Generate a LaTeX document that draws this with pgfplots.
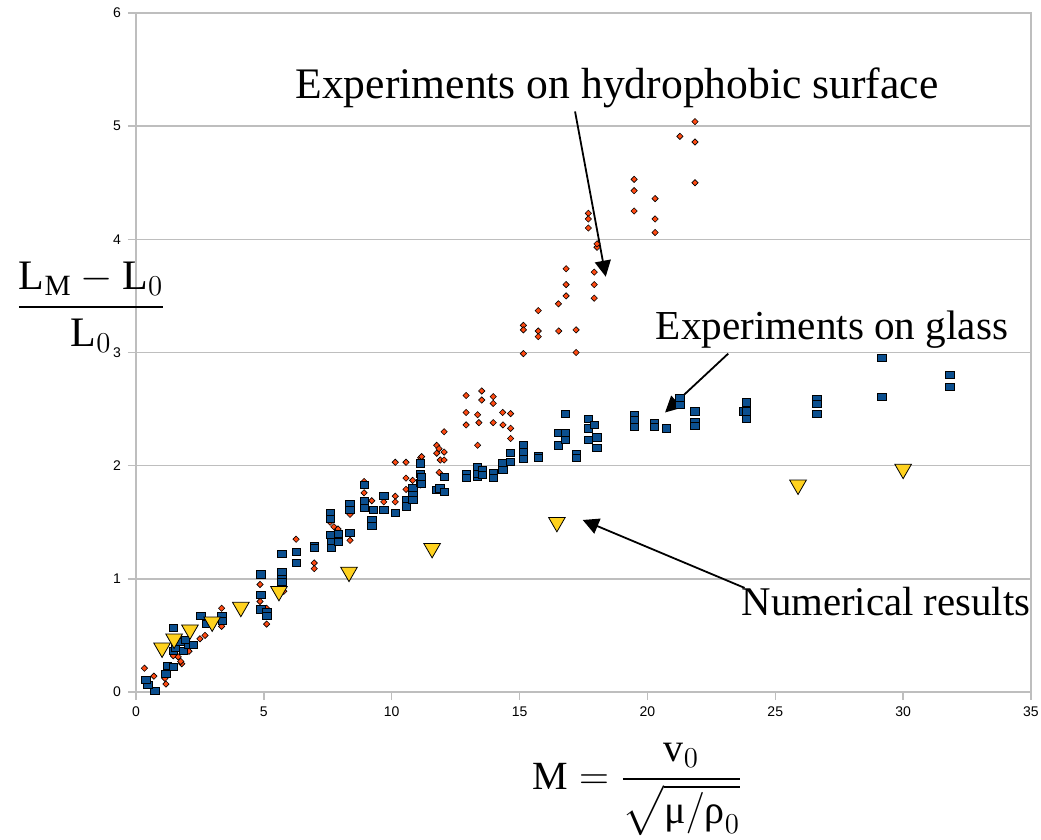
\documentclass[border=0pt]{standalone}
\usepackage{amsmath}
\usepackage{fontspec}
\setmainfont{Liberation Serif}
\newfontfamily\ticksfont{Liberation Sans}
\usepackage{pgfplots}
\pgfplotsset{compat=1.18}
\usetikzlibrary{arrows.meta}

\definecolor{glassblue}{HTML}{0B4F8F}
\definecolor{hydroorange}{HTML}{FF4A12}
\definecolor{numyellow}{HTML}{FFD21F}
\definecolor{gridgray}{HTML}{BEBEBE}

\begin{document}
\begin{tikzpicture}
\useasboundingbox (-68pt,-74pt) rectangle (452.5pt,346pt);
\begin{axis}[
    at={(0pt,0pt)}, anchor=south west,
    scale only axis, width=447.5pt, height=339.5pt,
    xmin=0, xmax=35, ymin=0, ymax=6,
    xtick={0,5,...,35}, ytick={0,1,...,6},
    xtick pos=left, ytick pos=left,
    tick align=outside, major tick length=4pt,
    ymajorgrids,
    major grid style={gridgray, line width=0.7pt},
    axis line style={gridgray, line width=0.7pt},
    tick style={gridgray, line width=0.7pt},
    tick label style={font=\ticksfont\fontsize{7}{8}\selectfont, black},
    /pgf/number format/assume math mode=true,
    clip=false,
]
% hydrophobic surface
\addplot[only marks, mark=diamond*, mark size=2.1pt,
    mark options={yscale=0.75, fill=hydroorange, draw=black, line width=0.3pt}]
coordinates {
(0.33,0.21) (0.70,0.14) (1.13,0.12) (1.17,0.07) (1.46,0.32) (1.65,0.31)
(1.79,0.25) (1.75,0.27) (2.07,0.36) (2.50,0.47) (2.70,0.50) (3.35,0.74)
(3.35,0.58) (4.85,0.95) (4.85,0.80) (5.11,0.74) (5.11,0.60) (5.78,0.89)
(6.26,1.35) (6.97,1.14) (6.97,1.09) (7.59,1.50) (7.74,1.46) (7.90,1.44)
(8.37,1.57) (8.37,1.34) (8.92,1.86) (8.92,1.76) (9.22,1.69) (9.69,1.68)
(10.14,2.03) (10.14,1.73) (10.14,1.68) (10.56,2.03) (10.56,1.89) (10.56,1.79)
(10.82,1.87) (10.82,1.74) (11.13,2.07) (11.13,1.83) (11.17,2.08) (11.76,2.18)
(11.85,2.15) (11.76,2.11) (12.05,2.12) (12.05,2.30) (11.90,2.05) (12.05,2.05)
(11.86,1.94) (12.91,2.62) (13.52,2.66) (13.52,2.58) (13.97,2.61) (13.97,2.55)
(12.91,2.47) (13.36,2.45) (14.34,2.47) (14.65,2.46) (12.91,2.36) (13.41,2.38)
(13.97,2.38) (14.35,2.36) (14.65,2.33) (14.65,2.24) (13.36,2.18) (15.15,3.24)
(15.15,3.20) (15.15,2.99) (15.73,3.37) (15.73,3.19) (15.73,3.14) (16.53,3.19)
(16.52,3.43) (17.21,3.20) (17.21,3.00) (16.82,3.74) (16.82,3.60) (16.82,3.50)
(17.69,4.23) (17.69,4.18) (17.69,4.10) (18.03,3.93) (18.03,3.96) (17.92,3.71)
(17.92,3.60) (17.92,3.48) (19.48,4.53) (19.48,4.43) (19.48,4.25) (20.30,4.36)
(20.30,4.18) (20.30,4.06) (21.27,4.91) (21.86,5.04) (21.86,4.86) (21.86,4.50)
};
% glass
\addplot[only marks, mark=square*, mark size=2.1pt,
    mark options={yscale=0.85, fill=glassblue, draw=black, line width=0.35pt}]
coordinates {
(0.74,0.01) (0.46,0.06) (0.38,0.11) (1.17,0.16) (1.22,0.23) (1.46,0.22)
(1.45,0.36) (1.53,0.39) (1.72,0.44) (1.85,0.36) (2.05,0.42) (2.24,0.42)
(1.92,0.46) (1.46,0.57) (2.54,0.67) (2.76,0.60) (3.35,0.67) (3.38,0.63)
(4.88,1.04) (4.88,0.86) (4.88,0.73) (5.11,0.71) (5.11,0.67) (5.70,1.06)
(5.70,1.00) (5.70,0.97) (5.70,1.22) (6.26,1.24) (6.26,1.14) (6.97,1.29)
(6.97,1.27) (7.59,1.58) (7.59,1.53) (7.59,1.39) (7.65,1.33) (7.65,1.27)
(7.91,1.40) (7.91,1.33) (8.37,1.66) (8.37,1.61) (8.37,1.41) (8.92,1.83)
(8.92,1.69) (8.92,1.63) (9.28,1.61) (9.22,1.52) (9.22,1.47) (9.69,1.73)
(9.69,1.61) (10.14,1.58) (10.58,1.70) (10.58,1.64) (10.82,1.80) (10.82,1.74)
(10.82,1.70) (11.11,2.02) (11.13,1.93) (11.13,1.85) (11.76,1.79) (11.89,1.80)
(12.05,1.77) (12.05,1.90) (11.17,1.90) (11.17,1.84) (12.91,1.93) (12.91,1.89)
(13.36,1.99) (13.36,1.90) (13.36,1.93) (13.54,1.96) (13.54,1.92) (13.97,1.94)
(13.97,1.89) (14.34,2.02) (14.34,1.96) (14.65,2.11) (14.65,2.03) (15.15,2.18)
(15.15,2.12) (15.15,2.06) (15.73,2.09) (15.73,2.07) (16.52,2.29) (16.52,2.18)
(16.80,2.46) (16.80,2.29) (16.80,2.23) (17.21,2.10) (17.21,2.07) (17.69,2.41)
(17.69,2.33) (17.69,2.23) (17.92,2.36) (18.02,2.25) (18.02,2.16) (19.48,2.45)
(19.48,2.40) (19.48,2.34) (20.27,2.38) (20.27,2.34) (20.75,2.33) (21.27,2.60)
(21.27,2.54) (21.86,2.48) (21.86,2.39) (21.86,2.35) (23.88,2.56) (23.75,2.48)
(23.88,2.48) (23.88,2.41) (26.62,2.59) (26.62,2.55) (26.62,2.46) (29.16,2.95)
(29.16,2.61) (31.83,2.80) (31.83,2.70)
};
% numerical
\addplot[only marks, mark=triangle*, mark size=4.8pt,
    mark options={rotate=180, fill=numyellow, draw=black, line width=0.4pt}]
coordinates {
(1.02,0.39) (1.49,0.47) (2.11,0.55) (2.98,0.62) (4.10,0.75) (5.59,0.89)
(8.33,1.06) (11.58,1.27) (16.46,1.50) (25.89,1.83) (30.00,1.97)
};

\node[font=\fontsize{21.8}{26}\selectfont] at (axis cs:18.81,5.34) {Experiments on hydrophobic surface};
\draw[-{Triangle[length=8pt,width=8pt]}, line width=0.9pt] (axis cs:17.17,5.13) -- (axis cs:18.37,3.67);
\node[font=\fontsize{20.6}{25}\selectfont] at (axis cs:27.22,3.20) {Experiments on glass};
\draw[-{Triangle[length=8pt,width=8pt]}, line width=0.9pt] (axis cs:23.16,2.99) -- (axis cs:20.69,2.47);
\node[font=\fontsize{20.4}{25}\selectfont] at (axis cs:29.33,0.80) {Numerical results};
\draw[-{Triangle[length=8pt,width=8pt]}, line width=0.9pt] (axis cs:23.8,0.92) -- (axis cs:17.47,1.52);

\node[font=\fontsize{21}{25}\selectfont] at (axis cs:-1.76,3.40)
  {$\dfrac{\text{L}_{\text{M}} - \text{L}_{0}}{\text{L}_{0}}$};
\node[font=\fontsize{20}{24}\selectfont] at (axis cs:19.6,-0.86)
  {$\text{M} = \dfrac{\text{v}_{0}}{\sqrt{\text{μ}/\text{ρ}_{0}}}$};
\end{axis}
\end{tikzpicture}
\end{document}
